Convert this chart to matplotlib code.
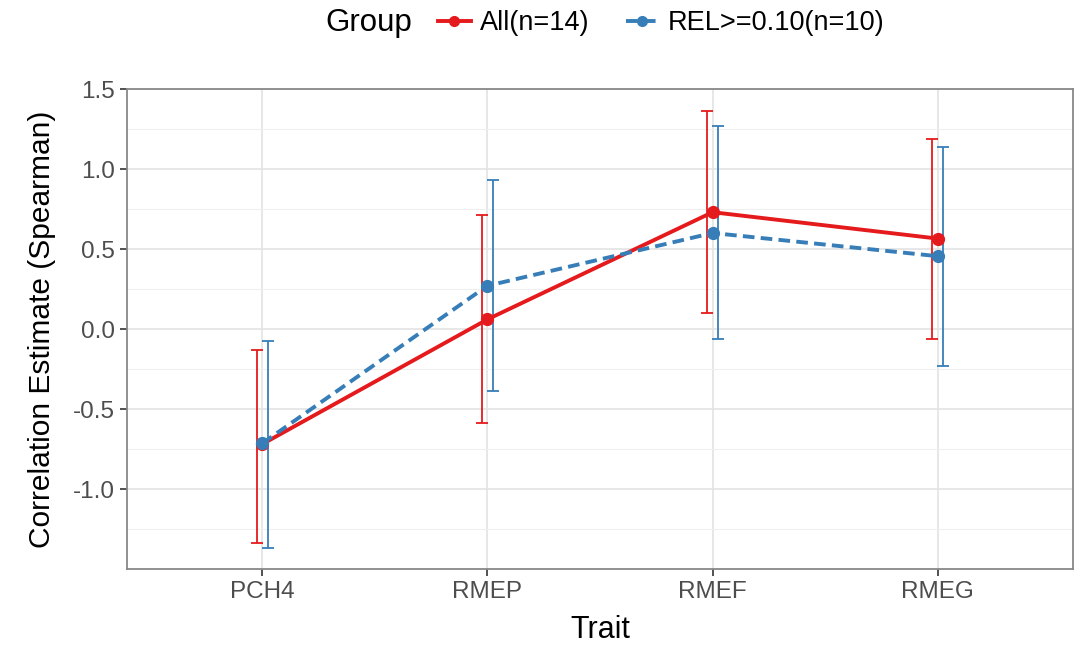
import matplotlib
matplotlib.use("Agg")
import matplotlib.pyplot as plt
from matplotlib.lines import Line2D
from matplotlib.ticker import MultipleLocator

plt.rcParams['font.family'] = ['Liberation Sans', 'DejaVu Sans']

traits = ["PCH4", "RMEP", "RMEF", "RMEG"]
groups = ["All(n=14)", "REL>=0.10(n=10)"]

all_est = [-0.72, 0.06, 0.73, 0.565]
all_low = [-1.34, -0.585, 0.10, -0.06]
all_high = [-0.13, 0.71, 1.36, 1.19]

rel_est = [-0.715, 0.27, 0.60, 0.455]
rel_low = [-1.37, -0.39, -0.06, -0.23]
rel_high = [-0.075, 0.93, 1.27, 1.14]

colors = ["#E41A1C", "#377EB8"]
styles = ["-", (0, (3.0, 1.6))]

fig = plt.figure(figsize=(10.86, 6.45), dpi=100)
ax = fig.add_axes([127 / 1086, 1 - 569 / 645, (1073 - 127) / 1086, (569 - 89) / 645])

x = list(range(len(traits)))
dodge = 0.025
series = [(all_est, all_low, all_high), (rel_est, rel_low, rel_high)]
for i, (est, low, high) in enumerate(series):
    off = -dodge if i == 0 else dodge
    xe = [xi + off for xi in x]
    yerr = [[e - l for e, l in zip(est, low)], [h - e for e, h in zip(est, high)]]
    ax.errorbar(xe, est, yerr=yerr, fmt="none", ecolor=colors[i], elinewidth=1.3,
                capsize=4.5, capthick=1.3, zorder=3)
for i, (est, low, high) in enumerate(series):
    ax.plot(x, est, color=colors[i], linestyle=styles[i], linewidth=2.8,
            marker="o", markersize=8.5, zorder=4 + i)

ax.set_xlim(-0.6, 3.6)
ax.set_ylim(-1.5, 1.5)
ax.set_xticks(x)
ax.set_xticklabels(traits)
ax.yaxis.set_major_locator(MultipleLocator(0.5))
ax.yaxis.set_minor_locator(MultipleLocator(0.25))
ax.set_yticks([-1.0, -0.5, 0.0, 0.5, 1.0, 1.5])
ax.set_yticklabels(["-1.0", "-0.5", "0.0", "0.5", "1.0", "1.5"])

ax.grid(True, which="major", color="#e3e3e3", linewidth=1.2, zorder=0)
ax.grid(True, which="minor", axis="y", color="#efefef", linewidth=0.8, zorder=0)
ax.set_axisbelow(True)
for sp in ax.spines.values():
    sp.set_color("#888888")
    sp.set_linewidth(1.3)
ax.tick_params(which="major", length=5, width=1.2, color="#333333",
               labelsize=17.5, labelcolor="#4d4d4d", pad=4)
ax.tick_params(which="minor", length=0)

ax.set_xlabel("Trait", fontsize=22, labelpad=8)
ax.set_ylabel("Correlation Estimate (Spearman)", fontsize=21.5, labelpad=12)

fig.text(325 / 1086, 1 - 23 / 645, "Group", fontsize=22.5, va="center", ha="left")
handles = [Line2D([], [], color=colors[i], linestyle=styles[i], linewidth=2.8,
                  marker="o", markersize=7) for i in range(2)]
fig.legend(handles, groups, loc="center left", bbox_to_anchor=(438 / 1086, 1 - 23 / 645),
           ncol=2, frameon=False, fontsize=19.5, handlelength=1.2, handletextpad=0.35,
           columnspacing=1.35, borderaxespad=0, borderpad=0)

fig.savefig("out.png", dpi=100)
